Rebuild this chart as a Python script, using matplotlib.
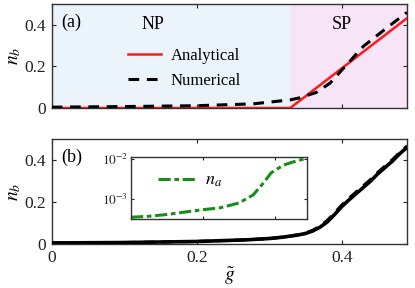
import numpy as np
import matplotlib
matplotlib.use("Agg")
import matplotlib.pyplot as plt
from matplotlib.ticker import FixedLocator, FixedFormatter, NullLocator

plt.rcParams['font.family'] = ['Liberation Serif', 'DejaVu Serif']
plt.rcParams['mathtext.fontset'] = 'stix'

# phase boundary
g_c = 0.329

# panel (a)
g_ana = [0.0, 0.329, 0.49]
nb_ana = [0.0, 0.0, 0.432]
g_num = [0.0, 0.1, 0.2, 0.278, 0.329, 0.342, 0.365, 0.384, 0.402, 0.43, 0.462, 0.49]
nb_num = [0.004, 0.007, 0.011, 0.02, 0.039, 0.049, 0.075, 0.12, 0.19, 0.297, 0.385, 0.46]

# panel (b)
g_b = [0.0, 0.1, 0.2, 0.27, 0.3, 0.32, 0.34, 0.35, 0.36, 0.37, 0.38, 0.39, 0.40,
       0.41, 0.42, 0.43, 0.44, 0.45, 0.46, 0.47, 0.48, 0.49]
nb_solid = [0.005, 0.007, 0.012, 0.02, 0.026, 0.033, 0.043, 0.05, 0.062, 0.08, 0.105,
            0.14, 0.178, 0.21, 0.24, 0.27, 0.30, 0.335, 0.365, 0.395, 0.43, 0.46]
nb_dash = [0.005, 0.007, 0.012, 0.02, 0.026, 0.033, 0.044, 0.052, 0.065, 0.085, 0.112,
           0.148, 0.185, 0.218, 0.248, 0.278, 0.308, 0.342, 0.372, 0.402, 0.436, 0.466]

# inset
g_in = [0.0, 0.05, 0.1, 0.156, 0.2, 0.247, 0.3, 0.34, 0.37, 0.39, 0.425, 0.46, 0.49]
na_in = [3.5e-4, 3.7e-4, 4.1e-4, 4.8e-4, 5.4e-4, 6.0e-4, 7.9e-4, 1.26e-3, 2.6e-3,
         4.5e-3, 7.1e-3, 8.9e-3, 1.05e-2]

fig = plt.figure(figsize=(4.15, 2.88), dpi=100)
ax1 = fig.add_axes([0.1246, 0.625, 0.8561, 0.361])
ax2 = fig.add_axes([0.1246, 0.1528, 0.8561, 0.3646])

def style(ax):
    ax.set_xlim(0, 0.49)
    ax.set_ylim(0, 0.5)
    ax.xaxis.set_major_locator(FixedLocator([0, 0.2, 0.4]))
    ax.yaxis.set_major_locator(FixedLocator([0, 0.2, 0.4]))
    ax.yaxis.set_major_formatter(FixedFormatter(['0', '0.2', '0.4']))
    ax.tick_params(direction='in', top=True, right=True, length=3, width=0.8,
                   labelsize=12.5, pad=4, colors='#222222')
    for s in ax.spines.values():
        s.set_linewidth(1.0)
        s.set_color('#333333')
    ax.set_ylabel(r'$n_b$', fontsize=14, labelpad=1)

style(ax1)
ax1.set_xticklabels([])
ax1.axvspan(0, g_c, color='#ebf3fb', lw=0)
ax1.axvspan(g_c, 0.49, color='#f7e4f7', lw=0)
ax1.plot(g_ana, nb_ana, color='#ff1a1a', lw=1.8, label='Analytical', zorder=3)
ax1.plot(g_num, nb_num, color='black', lw=2.2, ls=(0, (3.5, 2.5)), label='Numerical', zorder=4)
ax1.text(0.013, 0.41, '(a)', fontsize=13, va='center')
ax1.text(0.139, 0.40, 'NP', fontsize=13, ha='center', va='center')
ax1.text(0.40, 0.40, 'SP', fontsize=13, ha='center', va='center')
ax1.legend(loc='center left', bbox_to_anchor=(0.19, 0.38), frameon=False, fontsize=12,
           handlelength=2.0, handletextpad=0.6, labelspacing=0.55, borderpad=0)

style(ax2)
ax2.xaxis.set_major_formatter(FixedFormatter(['0', '0.2', '0.4']))
ax2.plot(g_b, nb_solid, color='black', lw=2.6, zorder=3)
ax2.plot(g_b, nb_dash, color='black', lw=2.2, ls=(0, (3.5, 2.5)), zorder=4)
ax2.text(0.013, 0.414, '(b)', fontsize=13, va='center')
ax2.set_xlabel(r'$\tilde{g}$', fontsize=14, labelpad=0)

axi = fig.add_axes([0.3157, 0.2396, 0.4241, 0.2153])
axi.set_yscale('log')
axi.set_xlim(0, 0.49)
axi.set_ylim(10 ** -3.5, 10 ** -1.95)
axi.plot(g_in, na_in, color='#1a8c1a', lw=2.2, ls=(0, (4, 1.2, 1.5, 1.2)), label=r'$n_a$')
axi.xaxis.set_major_locator(FixedLocator([0, 0.2, 0.4]))
axi.set_xticklabels([])
axi.yaxis.set_major_locator(FixedLocator([1e-3, 1e-2]))
axi.yaxis.set_major_formatter(FixedFormatter([r'$10^{-3}$', r'$10^{-2}$']))
axi.yaxis.set_minor_locator(NullLocator())
axi.tick_params(direction='in', top=True, right=True, length=2.5, width=0.8,
                labelsize=9.5, pad=2, colors='#222222')
for s in axi.spines.values():
    s.set_linewidth(1.0)
    s.set_color('#333333')
axi.legend(loc='center left', bbox_to_anchor=(0.1, 0.62), frameon=False, fontsize=13,
           handlelength=2.2, handletextpad=0.4, borderpad=0)

fig.savefig('out.png', dpi=100)
